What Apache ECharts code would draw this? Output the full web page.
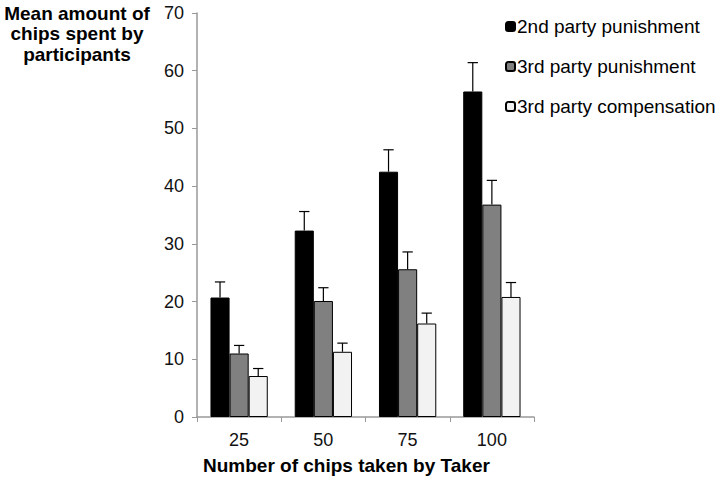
<!DOCTYPE html>
<html>
<head>
<meta charset="utf-8">
<script src="https://cdn.jsdelivr.net/npm/echarts@6/dist/echarts.min.js"></script>
<style>
  html, body { margin: 0; padding: 0; background: #fff; }
  #chart { width: 720px; height: 480px; }
</style>
</head>
<body>
<div id="chart"></div>
<script>
// categories (chips taken by the Taker)
var categories = ["25", "50", "75", "100"];
var seriesNames = ["2nd party punishment", "3rd party punishment", "3rd party compensation"];

// mean values
var secondPunish = [20.7, 32.3, 42.5, 56.4];
var thirdPunish = [11.0, 20.1, 25.6, 36.8];
var thirdComp = [7.1, 11.3, 16.2, 20.8];

// upper end of the error bars
var secondPunishUp = [23.4, 35.6, 46.3, 61.4];
var thirdPunishUp = [12.4, 22.4, 28.6, 41.0];
var thirdCompUp = [8.4, 12.8, 18.0, 23.3];

var means = [secondPunish, thirdPunish, thirdComp];
var uppers = [secondPunishUp, thirdPunishUp, thirdCompUp];
var barColors = ["#000000", "#808080", "#f2f2f2"];

var chart = echarts.init(document.getElementById("chart"), null, { renderer: "svg" });

// error bar data: [categoryIndex, seriesIndex, mean, upper]
var errData = [];
for (var s = 0; s < 3; s++) {
  for (var c = 0; c < categories.length; c++) {
    errData.push([c, s, means[s][c], uppers[s][c]]);
  }
}

var CAT_GAP = 0.32; // share of the band left empty

function renderError(params, api) {
  var c = api.value(0), s = api.value(1);
  var band = api.size([1, 0])[0];
  var barW = band * (1 - CAT_GAP) / 3;
  var center = api.coord([c, 0])[0];
  var x = center + (s - 1) * barW;
  var yMean = api.coord([c, api.value(2)])[1];
  var yUp = api.coord([c, api.value(3)])[1];
  var half = barW * 0.27;
  var st = { stroke: "#000", lineWidth: 1.2 };
  return {
    type: "group",
    children: [
      { type: "line", shape: { x1: x, y1: yMean, x2: x, y2: yUp }, style: st },
      { type: "line", shape: { x1: x - half, y1: yUp, x2: x + half, y2: yUp }, style: st }
    ]
  };
}

var series = [];
for (var i = 0; i < 3; i++) {
  series.push({
    name: seriesNames[i],
    type: "bar",
    data: means[i],
    barGap: "0%",
    barCategoryGap: "32%",
    itemStyle: { color: barColors[i], borderColor: "#000", borderWidth: 1 }
  });
}
series.push({
  type: "custom",
  data: errData,
  renderItem: renderError,
  encode: { x: 0, y: 3 },
  z: 3,
  silent: true
});

var FONT = "Liberation Sans, Arial, sans-serif";

var option = {
  animation: false,
  textStyle: { fontFamily: FONT },
  grid: { left: 197, right: 186, top: 13, bottom: 63 },
  legend: {
    data: seriesNames,
    orient: "vertical",
    left: 500,
    top: 12,
    itemWidth: 9,
    itemHeight: 9,
    itemGap: 21,
    textStyle: { fontSize: 19, color: "#000", padding: [0, 0, 0, -3] }
  },
  xAxis: {
    type: "category",
    data: categories,
    axisLine: { lineStyle: { color: "#999", width: 1.5 } },
    axisTick: { show: true, length: 5, lineStyle: { color: "#999" } },
    axisLabel: { fontSize: 18, color: "#111", margin: 14 }
  },
  yAxis: {
    type: "value",
    min: 0,
    max: 70,
    interval: 10,
    axisLine: { show: true, lineStyle: { color: "#999", width: 1.5 } },
    axisTick: { show: true, length: 5, lineStyle: { color: "#999" } },
    axisLabel: { fontSize: 18, color: "#111", margin: 13 },
    splitLine: { show: false }
  },
  graphic: [
    {
      type: "text",
      x: 77,
      y: 3,
      style: {
        text: "Mean amount of\nchips spent by\nparticipants",
        font: "bold 19px " + FONT,
        fill: "#000",
        align: "center",
        lineHeight: 20.5
      }
    },
    {
      type: "text",
      x: 203,
      y: 456,
      style: {
        text: "Number of chips taken by Taker",
        font: "bold 19px " + FONT,
        fill: "#000"
      }
    }
  ],
  series: series
};

chart.setOption(option);
</script>
</body>
</html>
